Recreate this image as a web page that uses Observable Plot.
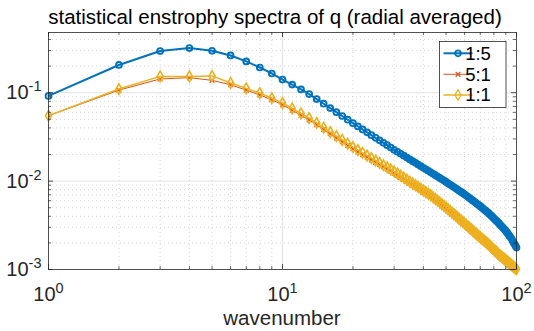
<!DOCTYPE html>
<html><head><meta charset="utf-8">
<script src="https://cdn.jsdelivr.net/npm/d3@7"></script>
<script src="https://cdn.jsdelivr.net/npm/@observablehq/plot@0.6"></script>
<style>
body{margin:0;background:#fff;}
#chart{width:534px;height:331px;}
</style>
</head><body><div id="chart"></div>
<script>
const titleText = "statistical enstrophy spectra of q (radial averaged)";
const xLabel = "wavenumber";
const seriesNames = ["1:5", "5:1", "1:1"];
const seriesColors = ["#0072BD", "#D95319", "#EDB120"];

const wavenumber = [1,2,3,4,5,6,7,8,9,10,11,12,13,14,15,16,17,18,19,20,21,22,23,24,25,26,27,28,29,30,31,32,33,34,35,36,37,38,39,40,41,42,43,44,45,46,47,48,49,50,51,52,53,54,55,56,57,58,59,60,61,62,63,64,65,66,67,68,69,70,71,72,73,74,75,76,77,78,79,80,81,82,83,84,85,86,87,88,89,90,91,92,93,94,95,96,97,98,99,100];

const ratio15 = [0.092,0.206,0.296,0.320,0.298,0.264,0.226,0.193,0.165,0.141,
0.1235,0.109,0.0966,0.0848,0.0751,0.0670,0.0603,0.0545,0.0495,0.0452,
0.0416,0.0384,0.0356,0.0331,0.0309,0.0289,0.0271,0.0255,0.0240,0.0226,
0.02147,0.02039,0.01939,0.01846,0.01761,0.01682,0.01608,0.01540,0.01476,0.01416,
0.01361,0.01309,0.01259,0.01212,0.01168,0.01126,0.01086,0.01049,0.01014,0.00980,
0.00946,0.00915,0.00884,0.00856,0.00828,0.00802,0.00777,0.00754,0.00731,0.00710,
0.00687,0.00664,0.00643,0.00623,0.00604,0.00586,0.00568,0.00551,0.00535,0.00520,
0.00504,0.00489,0.00474,0.00460,0.00447,0.00434,0.00419,0.00406,0.00393,0.00380,
0.00368,0.00357,0.00346,0.00334,0.00323,0.00312,0.00302,0.00292,0.00283,0.00274,
0.00263,0.00253,0.00243,0.00234,0.00225,0.00214,0.00204,0.00195,0.00186,0.00177];

const ratio51 = [0.055,0.107,0.143,0.148,0.138,0.123,0.107,0.0945,0.0831,0.0731,
0.0633,0.0556,0.0493,0.0434,0.0384,0.0343,0.0308,0.0279,0.0253,0.0232,
0.0214,0.0199,0.0186,0.0174,0.0163,0.0154,0.0145,0.0137,0.0130,0.0123,
0.01163,0.01102,0.01046,0.00991,0.00944,0.00900,0.00859,0.00819,0.00784,0.00751,
0.00717,0.00689,0.00661,0.00630,0.00600,0.00573,0.00548,0.00524,0.00501,0.00480,
0.00459,0.00440,0.00421,0.00404,0.00388,0.00371,0.00357,0.00343,0.00329,0.00317,
0.00306,0.00294,0.00284,0.00273,0.00264,0.00254,0.00245,0.00237,0.00229,0.00222,
0.00215,0.00208,0.00202,0.00196,0.00189,0.00184,0.00178,0.00172,0.00166,0.00160,
0.00156,0.00151,0.00147,0.00142,0.00138,0.00134,0.00131,0.00128,0.00125,0.00122,
0.00119,0.00116,0.00112,0.00110,0.00107,0.00104,0.00101,0.00098,0.00096,0.00094];

const ratio11 = [0.055,0.110,0.153,0.153,0.155,0.129,0.112,0.099,0.087,0.0765,
0.0663,0.0582,0.0516,0.04544,0.04023,0.03591,0.03228,0.02918,0.02653,0.02427,
0.02246,0.02087,0.01947,0.01821,0.01709,0.01608,0.01516,0.01434,0.01358,0.01288,
0.01218,0.01154,0.01095,0.01038,0.00988,0.00942,0.00899,0.00858,0.00821,0.00786,
0.00751,0.00721,0.00692,0.00660,0.00628,0.00600,0.00574,0.00549,0.00525,0.00503,
0.00481,0.00461,0.00441,0.00423,0.00406,0.00389,0.00374,0.00359,0.00345,0.00332,
0.00320,0.00308,0.00297,0.00286,0.00276,0.00266,0.00257,0.00248,0.00240,0.00232,
0.00225,0.00218,0.00211,0.00205,0.00198,0.00193,0.00186,0.00180,0.00174,0.00168,
0.00163,0.00158,0.00154,0.00149,0.00144,0.00141,0.00137,0.00134,0.00131,0.00128,
0.00125,0.00122,0.00118,0.00116,0.00113,0.00110,0.00108,0.00105,0.00103,0.00101];

const xMajor = [1, 10, 100];
const xMinor = [2,3,4,5,6,7,8,9,20,30,40,50,60,70,80,90];
const yMajor = [0.001, 0.01, 0.1];
const yMinor = [0.002,0.003,0.004,0.005,0.006,0.007,0.008,0.009,0.02,0.03,0.04,0.05,0.06,0.07,0.08,0.09,0.2,0.3,0.4];
const xDomain = [1, 100];
const yDomain = [0.001, 0.48];

const W = 534, H = 331;
const mL = 48, mR = 18, mT = 32, mB = 62;
const iW = W - mL - mR, iH = H - mT - mB;
const axisColor = "#262626";
const font = "'Liberation Sans', Arial, Helvetica, sans-serif";

const rows = (vals, name) => wavenumber.map((k, i) => ({k, v: vals[i], s: name}));
const dBlue = rows(ratio15, seriesNames[0]);
const dRed = rows(ratio51, seriesNames[1]);
const dYel = rows(ratio11, seriesNames[2]);

const expFormat = d => "10^" + Math.round(Math.log10(d));

const chart = Plot.plot({
  width: W, height: H,
  marginLeft: mL, marginRight: mR, marginTop: mT, marginBottom: mB,
  style: {fontFamily: font, fontSize: "20px", color: axisColor, background: "#fff"},
  x: {type: "log", domain: xDomain, label: null},
  y: {type: "log", domain: yDomain, label: null},
  marks: [
    Plot.ruleX(xMinor, {stroke: "#c4c4c4", strokeWidth: 0.7, strokeDasharray: "1,3"}),
    Plot.ruleY(yMinor, {stroke: "#c4c4c4", strokeWidth: 0.7, strokeDasharray: "1,3"}),
    Plot.ruleX([10], {stroke: "#e0e0e0", strokeWidth: 0.9}),
    Plot.ruleY([0.01, 0.1], {stroke: "#e0e0e0", strokeWidth: 0.9}),
    Plot.line(dBlue, {x: "k", y: "v", stroke: seriesColors[0], strokeWidth: 2}),
    Plot.dot(dBlue, {x: "k", y: "v", r: 2.9, stroke: seriesColors[0], strokeWidth: 1.9, fill: "none"}),
    Plot.line(dRed, {x: "k", y: "v", stroke: seriesColors[1], strokeWidth: 1, clip: true}),
    Plot.dot(dRed, {x: "k", y: "v", symbol: "times", r: 2.3, stroke: seriesColors[1], strokeWidth: 1.1, clip: true}),
    Plot.line(dYel, {x: "k", y: "v", stroke: seriesColors[2], strokeWidth: 1.5}),
    Plot.dot(dYel, {x: "k", y: "v", symbol: "diamond", r: 3.2, stroke: seriesColors[2], strokeWidth: 1.6, fill: "none"}),
    Plot.frame({stroke: axisColor, strokeWidth: 0.8}),
    Plot.ruleX(xMajor, {stroke: axisColor, strokeWidth: 0.8, insetTop: iH - 5}),
    Plot.ruleX(xMajor, {stroke: axisColor, strokeWidth: 0.8, insetBottom: iH - 5}),
    Plot.ruleX(xMinor, {stroke: axisColor, strokeWidth: 0.7, insetTop: iH - 3}),
    Plot.ruleX(xMinor, {stroke: axisColor, strokeWidth: 0.7, insetBottom: iH - 3}),
    Plot.ruleY(yMajor, {stroke: axisColor, strokeWidth: 0.8, insetRight: iW - 5}),
    Plot.ruleY(yMajor, {stroke: axisColor, strokeWidth: 0.8, insetLeft: iW - 5}),
    Plot.ruleY(yMinor, {stroke: axisColor, strokeWidth: 0.7, insetRight: iW - 3}),
    Plot.ruleY(yMinor, {stroke: axisColor, strokeWidth: 0.7, insetLeft: iW - 3}),
    Plot.axisX({ticks: xMajor, tickSize: 0, tickPadding: 16.8, tickFormat: expFormat, fontSize: 20, label: null}),
    Plot.axisY({ticks: yMajor, tickSize: 0, tickPadding: 7, tickFormat: expFormat, fontSize: 20, label: null})
  ]
});

document.getElementById("chart").appendChild(chart);
const svg = d3.select(chart);

// superscript exponents in tick labels
svg.selectAll('g[aria-label="x-axis tick label"] text, g[aria-label="y-axis tick label"] text').each(function() {
  const t = d3.select(this);
  const s = t.text();
  if (!s.startsWith("10^")) return;
  const e = s.slice(3);
  t.text(null);
  t.append("tspan").text("10");
  t.append("tspan").attr("dy", -8).attr("font-size", 14.5).text(e);
});

// title and x label
svg.append("text").attr("x", 275).attr("y", 23.5).attr("text-anchor", "middle")
  .attr("font-size", 20.5).attr("fill", "#000").attr("font-family", font).text(titleText);
svg.append("text").attr("x", 282).attr("y", 325).attr("text-anchor", "middle")
  .attr("font-size", 20.5).attr("fill", axisColor).attr("font-family", font).text(xLabel);

// legend
const lg = svg.append("g").attr("font-family", font);
lg.append("rect").attr("x", 439.5).attr("y", 41.5).attr("width", 66.5).attr("height", 66)
  .attr("fill", "#fff").attr("stroke", axisColor).attr("stroke-width", 0.8);
const symbols = [d3.symbolCircle, d3.symbolTimes, d3.symbolDiamond];
const lw = [2, 1, 1.5];
const rowY = [53.3, 74.3, 95];
seriesNames.forEach((name, i) => {
  const y = rowY[i];
  lg.append("line").attr("x1", 443.5).attr("x2", 472.5).attr("y1", y).attr("y2", y)
    .attr("stroke", seriesColors[i]).attr("stroke-width", lw[i]);
  const size = i === 0 ? Math.PI * 2.9 * 2.9 : i === 1 ? Math.PI * 2.3 * 2.3 : Math.PI * 3.2 * 3.2;
  lg.append("path").attr("d", d3.symbol(symbols[i], size)()).attr("transform", `translate(458,${y})`)
    .attr("fill", "none").attr("stroke", seriesColors[i]).attr("stroke-width", i === 0 ? 1.9 : 1.3);
  lg.append("text").attr("x", 478).attr("y", y).attr("dy", "0.35em").attr("font-size", 18.5)
    .attr("fill", "#000").text(name);
});
</script>
</body></html>
